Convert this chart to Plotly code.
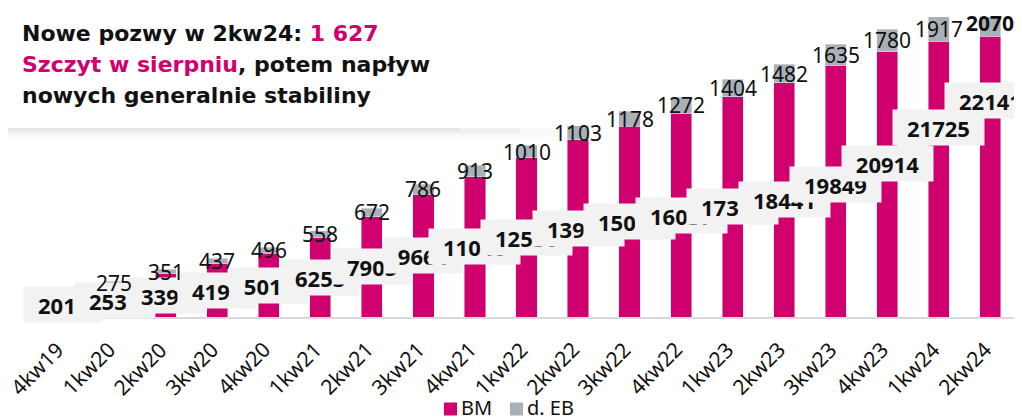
import plotly.graph_objects as go

# ---- data ----
quarters = ["4kw19", "1kw20", "2kw20", "3kw20", "4kw20", "1kw21", "2kw21", "3kw21", "4kw21",
            "1kw22", "2kw22", "3kw22", "4kw22", "1kw23", "2kw23", "3kw23", "4kw23", "1kw24", "2kw24"]
bm_values = [2016, 2531, 3393, 4195, 5014, 6253, 7905, 9664, 11046, 12530, 13960, 15041,
             16037, 17350, 18441, 19849, 20914, 21725, 22141]
eb_values = [None, 275, 351, 437, 496, 558, 672, 786, 913, 1010, 1103, 1178, 1272, 1404,
             1482, 1635, 1780, 1917, 2070]
series_names = ["BM", "d. EB"]

# ---- styling / layout ----
MAGENTA = "#d0006f"
GREY = "#a9b0b7"
FONT = "Noto Sans"
TITLE_FONT = "DejaVu Sans"
OFF = 8                      # page body margin of the html page
W, H = 1022, 419
L, T = 37 - OFF, 17 - OFF
R = W - (1016 - OFF)
B = H - (317 - OFF)
PW, PH = W - L - R, H - T - B
Y_MAX = 23640
bm_label_lift = [0] * 15 + [7, 21, 52, 76]   # manual label offsets (px)


def px(x_img):
    return (x_img - OFF - L) / PW


def py(y_img):
    return (H - B - (y_img - OFF)) / PH


fig = go.Figure()
fig.add_trace(go.Bar(x=quarters, y=bm_values, name=series_names[0], marker_color=MAGENTA,
                     hoverinfo="skip", showlegend=False))
fig.add_trace(go.Bar(x=quarters, y=eb_values, name=series_names[1], marker_color=GREY,
                     hoverinfo="skip", showlegend=False))

annotations = []
# BM labels: grey boxes, later ones drawn on top of earlier ones
for q, v, lift in zip(quarters, bm_values, bm_label_lift):
    s = str(v)
    annotations.append(dict(
        x=q, y=v / 2, xref="x", yref="y", yshift=lift,
        text="<b>" + s + "</b>", showarrow=False,
        font=dict(family=FONT, size=22, color="#111111"),
        bgcolor="#f2f2f2", borderpad=2,
        width=len(s) * 12.6 + 24, height=31, align="center",
    ))
# EB labels centred on the grey segment
for i, (q, v, e) in enumerate(zip(quarters, bm_values, eb_values)):
    if e is None:
        continue
    txt = str(e) if i < len(quarters) - 1 else "<b>" + str(e) + "</b>"
    annotations.append(dict(
        x=q, y=v + e / 2, xref="x", yref="y", text=txt, showarrow=False,
        font=dict(family=FONT, size=21, color="#111111"),
    ))
# category labels, rotated
for q in quarters:
    annotations.append(dict(
        x=q, y=0, xref="x", yref="y", text=q, showarrow=False, textangle=-45,
        xanchor="right", yanchor="top", xshift=10, yshift=-16,
        font=dict(family=FONT, size=21, color="#111111"),
    ))

# title card text
title_lines = [
    "<b>Nowe pozwy w 2kw24: <span style='color:%s'>1 627</span></b>" % MAGENTA,
    "<b><span style='color:%s'>Szczyt w sierpniu</span>, potem napływ</b>" % MAGENTA,
    "<b>nowych generalnie stabiliny</b>",
]
for k, line in enumerate(title_lines):
    annotations.append(dict(
        x=px(20), y=py(33 + k * 31.5), xref="paper", yref="paper",
        xanchor="left", yanchor="middle", text=line, showarrow=False,
        font=dict(family=TITLE_FONT, size=22, color="#111111"),
    ))

shapes = [
    # soft shadow under the card, fading to the right
    dict(type="rect", xref="paper", yref="paper", x0=px(2), x1=px(560), y0=py(137), y1=py(126),
         fillcolor="rgba(0,0,0,0.025)", line_width=0, layer="above"),
    dict(type="rect", xref="paper", yref="paper", x0=px(2), x1=px(520), y0=py(134), y1=py(126),
         fillcolor="rgba(0,0,0,0.035)", line_width=0, layer="above"),
    dict(type="rect", xref="paper", yref="paper", x0=px(2), x1=px(460), y0=py(131), y1=py(126),
         fillcolor="rgba(0,0,0,0.04)", line_width=0, layer="above"),
    # white card
    dict(type="rect", xref="paper", yref="paper", x0=px(-2), x1=px(556), y0=py(128), y1=py(-2),
         fillcolor="white", line=dict(color="rgba(0,0,0,0.0)", width=0), layer="above"),
]

# legend drawn by hand (keeps it from pushing the margins)
legend_items = [(series_names[0], MAGENTA, 444), (series_names[1], GREY, 510)]
for name, col, x0 in legend_items:
    shapes.append(dict(type="rect", xref="paper", yref="paper",
                       x0=px(x0), x1=px(x0 + 13), y0=py(415.5), y1=py(402.5),
                       fillcolor=col, line_width=0))
    annotations.append(dict(x=px(x0 + 15), y=py(408), xref="paper", yref="paper",
                            xanchor="left", yanchor="middle", text=name, showarrow=False,
                            font=dict(family=FONT, size=20, color="#111111")))

fig.update_layout(
    barmode="stack", bargap=0.59,
    width=W, height=H, showlegend=False,
    margin=dict(l=L, r=R, t=T, b=B),
    paper_bgcolor="white", plot_bgcolor="white",
    font=dict(family=FONT, color="#111111"),
    xaxis=dict(range=[-0.5, len(quarters) - 0.5], showticklabels=False,
               showline=True, linecolor="#d9d9d9", linewidth=2, ticks="",
               automargin=False, showgrid=False, zeroline=False),
    yaxis=dict(range=[0, Y_MAX], visible=False, showgrid=False, zeroline=False,
               automargin=False),
    annotations=annotations,
    shapes=shapes,
)

fig.write_html("out.html")
